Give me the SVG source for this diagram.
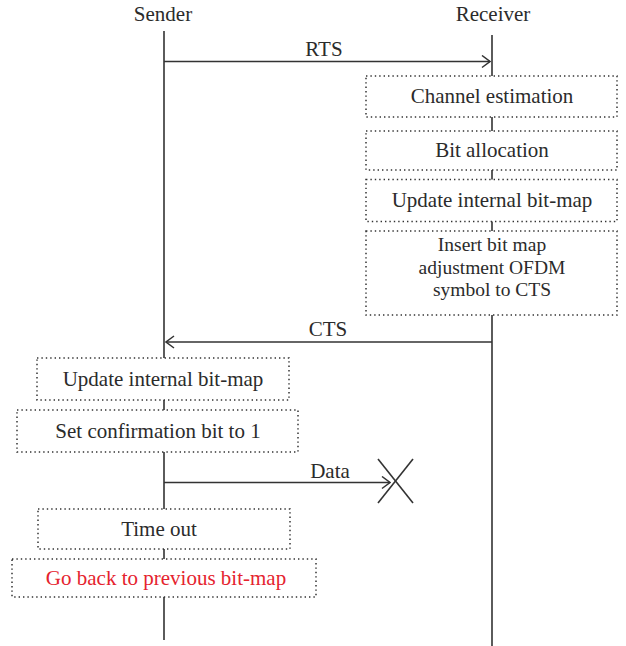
<svg xmlns="http://www.w3.org/2000/svg" width="626" height="646" viewBox="0 0 626 646">
<defs>
<style>
text{font-family:"Liberation Serif","Times New Roman",serif;font-size:21px;fill:#2b2b2b;text-anchor:middle}
.small{font-size:19.5px}
.life{stroke:#333;stroke-width:1.6;fill:none}
.msg{stroke:#333;stroke-width:1.6;fill:none}
.box{fill:#fff;stroke:#333;stroke-width:1.5;stroke-dasharray:1.4 3}
.red{fill:#e5232e}
</style>
<marker id="open" viewBox="0 0 10 14" refX="9" refY="7" markerWidth="10" markerHeight="14" markerUnits="userSpaceOnUse" orient="auto">
<path d="M1,1 L9,7 L1,13" fill="none" stroke="#333" stroke-width="1.5"/>
</marker>
</defs>
<rect width="626" height="646" fill="#fff"/>
<g id="lifelines">
<text x="163" y="21">Sender</text>
<text x="493" y="21">Receiver</text>
<line class="life" x1="164" y1="31" x2="164" y2="640"/>
<line class="life" x1="492" y1="35" x2="492" y2="646"/>
</g>
<g id="connectors">
<line class="msg" x1="164" y1="61.5" x2="490" y2="61.5" marker-end="url(#open)"/>
<text x="324" y="56">RTS</text>
<line class="msg" x1="492" y1="342" x2="166" y2="342" marker-end="url(#open)"/>
<text x="328" y="336">CTS</text>
<line class="msg" x1="164" y1="482.5" x2="390" y2="482.5" marker-end="url(#open)"/>
<text x="330" y="478">Data</text>
<g id="lost">
<line class="msg" x1="378" y1="459" x2="413" y2="503"/>
<line class="msg" x1="413" y1="459" x2="378" y2="503"/>
</g>
</g>
<g id="channel-estimation">
<rect class="box" x="366" y="76" width="251" height="41"/>
<text x="492" y="103">Channel estimation</text>
</g>
<g id="bit-allocation">
<rect class="box" x="366" y="131" width="251" height="39"/>
<text x="492" y="157">Bit allocation</text>
</g>
<g id="update-receiver">
<rect class="box" x="366" y="179.5" width="251" height="42"/>
<text x="492" y="207">Update internal bit-map</text>
</g>
<g id="insert-bitmap">
<rect class="box" x="366" y="231" width="251" height="84"/>
<text class="small" x="492" y="251">Insert bit map</text>
<text class="small" x="492" y="273.5">adjustment OFDM</text>
<text class="small" x="492" y="296">symbol to CTS</text>
</g>
<g id="update-sender">
<rect class="box" x="37" y="358" width="252" height="42"/>
<text x="163" y="386">Update internal bit-map</text>
</g>
<g id="set-confirmation">
<rect class="box" x="17" y="410" width="281" height="42"/>
<text x="158" y="438">Set confirmation bit to 1</text>
</g>
<g id="time-out">
<rect class="box" x="38" y="509" width="252" height="40"/>
<text x="159" y="536">Time out</text>
</g>
<g id="go-back">
<rect class="box" x="12" y="559" width="304" height="38"/>
<text class="red" x="166" y="585">Go back to previous bit-map</text>
</g>
</svg>
